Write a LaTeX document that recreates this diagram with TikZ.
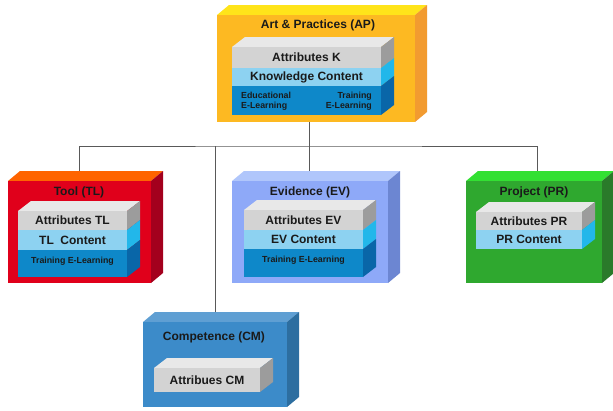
\documentclass[tikz,border=0pt]{standalone}
\usepackage{fontspec}
\setmainfont{Liberation Sans}
\definecolor{apF}{HTML}{FDB922}\definecolor{apT}{HTML}{FFE41A}\definecolor{apS}{HTML}{F29B30}
\definecolor{tlF}{HTML}{E0001B}\definecolor{tlT}{HTML}{FF6400}\definecolor{tlS}{HTML}{A3001D}
\definecolor{evF}{HTML}{8EA9F8}\definecolor{evT}{HTML}{B0C6FB}\definecolor{evS}{HTML}{6C86D2}
\definecolor{prF}{HTML}{2FA82F}\definecolor{prT}{HTML}{33E033}\definecolor{prS}{HTML}{2A7A2A}
\definecolor{cmF}{HTML}{3C8BC9}\definecolor{cmT}{HTML}{5F9FD3}\definecolor{cmS}{HTML}{2D6EA0}
\definecolor{gF}{HTML}{D3D3D3}\definecolor{gT}{HTML}{E8E8E8}\definecolor{gS}{HTML}{9C9C9C}
\definecolor{lbF}{HTML}{8DD2F1}\definecolor{lbS}{HTML}{22B7EA}
\definecolor{dbF}{HTML}{0E88C9}\definecolor{dbS}{HTML}{0966A8}
\definecolor{txt}{HTML}{1A1A1A}
% outer 3D box: name x1 y1 x2 y2 front top side
\newcommand\outerbox[8]{%
  \fill[#7] (#2,#3) -- ({#2+12},{#3-10}) -- ({#4+12},{#3-10}) -- (#4,#3) -- cycle;
  \fill[#8] (#4,#3) -- ({#4+12},{#3-10}) -- ({#4+12},{#5-10}) -- (#4,#5) -- cycle;
  \node[face, fill=#6, minimum width={#4pt-#2pt}, minimum height={#5pt-#3pt}] (#1) at (#2,#3) {};}
% inner layer: name x1 y1 x2 y2 front side text
\newcommand\layerbox[8]{%
  \fill[#7] (#4,#3) -- ({#4+13},{#3-10}) -- ({#4+13},{#5-10}) -- (#4,#5) -- cycle;
  \node[face, fill=#6, minimum width={#4pt-#2pt}, minimum height={#5pt-#3pt}, lbl] (#1) at (#2,#3) {#8};}
% top face of inner stack: x1 y1 x2
\newcommand\layertop[3]{%
  \fill[gT] (#1,#2) -- ({#1+13},{#2-10}) -- ({#3+13},{#2-10}) -- (#3,#2) -- cycle;}
\begin{document}
\begin{tikzpicture}[x=1pt,y=-1pt,
  face/.style={inner sep=0pt, outer sep=0pt, anchor=north west, text=txt},
  conn/.style={draw=black!65, line width=1pt},
  ttl/.style={font=\fontsize{12}{14}\selectfont\bfseries, text=txt},
  lbl/.style={font=\fontsize{12}{14}\selectfont\bfseries},
  sml/.style={font=\fontsize{8.8}{10}\selectfont\bfseries, text=txt, inner sep=0pt}]
\useasboundingbox (0,0) rectangle (613,410);

% connectors
\coordinate (bus) at (309,146);
% boxes
\outerbox{ap}{217}{15}{415}{122}{apF}{apT}{apS}
\outerbox{tl}{8}{181}{151}{283}{tlF}{tlT}{tlS}
\outerbox{ev}{232}{181}{388}{283}{evF}{evT}{evS}
\outerbox{pr}{466}{181}{602}{283}{prF}{prT}{prS}
\outerbox{cm}{143}{322}{287}{407}{cmF}{cmT}{cmS}

\draw[conn] (ap.south -| bus) -- (bus);
\draw[conn] ([yshift=10pt]tl.north) |- (bus) -| ([yshift=10pt,xshift=3pt]pr.north);
\draw[conn] (bus) -- ([yshift=10pt]ev.north -| bus);
\draw[conn] ([yshift=10pt]cm.north) -- (cm.north |- bus);

% titles
\node[ttl] (apt) at (318,25) {Art \& Practices (AP)};
\node[ttl] (tlt) at (79,192) {Tool (TL)};
\node[ttl] (evt) at (310,192) {Evidence (EV)};
\node[ttl] (prt) at (534,192) {Project (PR)};
\node[ttl] (cmt) at (214,337) {Competence (CM)};

% AP inner
\layertop{232}{47}{381}
\layerbox{apg}{232}{47}{381}{68}{gF}{gS}{Attributes K}
\layerbox{apl}{232}{68}{381}{86}{lbF}{lbS}{Knowledge Content}
\layerbox{apd}{232}{86}{381}{115}{dbF}{dbS}{}
\node[sml, anchor=west, align=left] (ape) at (241,101) {Educational\\E-Learning};
\node[sml, anchor=east, align=right] (apr) at (372,101) {Training\\E-Learning};

% Tool inner
\layertop{18}{211}{127}
\layerbox{tlg}{18}{211}{127}{230}{gF}{gS}{Attributes TL}
\layerbox{tll}{18}{230}{127}{250}{lbF}{lbS}{TL~~Content}
\layerbox{tld}{18}{250}{127}{277}{dbF}{dbS}{}
\node[sml] (tle) at (72.5,261) {Training E-Learning};

% Evidence inner
\layertop{244}{210}{363}
\layerbox{evg}{244}{210}{363}{230}{gF}{gS}{Attributes EV}
\layerbox{evl}{244}{230}{363}{249}{lbF}{lbS}{EV Content}
\layerbox{evd}{244}{249}{363}{277}{dbF}{dbS}{}
\node[sml] (eve) at (303.5,260) {Training E-Learning};

% Project inner
\layertop{476}{212}{582}
\layerbox{prg}{476}{212}{582}{230}{gF}{gS}{Attributes PR}
\layerbox{prl}{476}{230}{582}{249}{lbF}{lbS}{PR Content}

% Competence inner
\layertop{154}{368}{260}
\layerbox{cmg}{154}{368}{260}{392}{gF}{gS}{Attribues CM}
\end{tikzpicture}
\end{document}
